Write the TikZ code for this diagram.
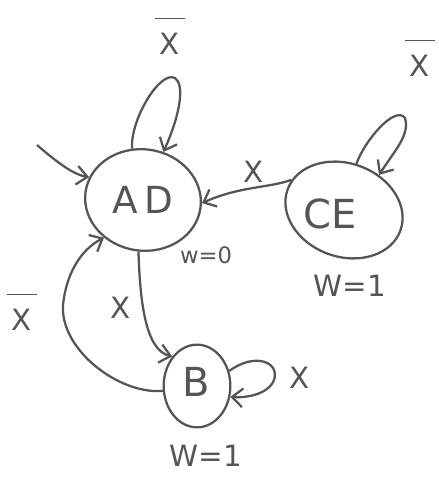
\documentclass[tikz,border=0pt]{standalone}
\usepackage{fontspec}
\setmainfont{DejaVu Sans}
\usetikzlibrary{shapes.geometric,arrows.meta}
\definecolor{pen}{RGB}{85,85,85}
% X with a raised bar over it
\newcommand{\notx}{$\overline{\mbox{\rule{0pt}{1.2em}\,X\,}}$}
\begin{document}
\begin{tikzpicture}[x=0.75pt,y=-0.75pt,
  state/.style={draw=pen,ellipse,line width=1.7pt,inner sep=0pt},
  statename/.style={text=pen,font=\fontsize{28}{30}\selectfont},
  edge/.style={draw=pen,line width=1.7pt,-{Straight Barb[length=8pt,width=14pt,line width=1.7pt]}},
  lbl/.style={text=pen,font=\fontsize{22}{24}\selectfont},
  wlbl/.style={text=pen,font=\fontsize{22}{24}\selectfont}]
\useasboundingbox (0,0) rectangle (438,477);
% states
\node[state,minimum width=87pt,minimum height=76pt,rotate=-8] (AD) at (143,200) {};
\node[statename] (tAD) at (143,200) {A\,D};
\node[state,minimum width=90pt,minimum height=70pt,rotate=-20] (CE) at (344,210) {};
\node[statename,font=\fontsize{30}{32}\selectfont] (tCE) at (330,214) {CE};
\node[state,minimum width=50pt,minimum height=62pt] (B) at (197,386) {};
\node[statename,font=\fontsize{30}{32}\selectfont] (tB) at (196,382) {B};
% weight labels
\node[wlbl,font=\fontsize{17}{19}\selectfont] (w0) at (206,255) {w=0};
\node[wlbl] (w1ce) at (350,286) {W=1};
\node[wlbl] (w1b) at (206,456) {W=1};
% start arrow
\coordinate (start) at (37,145);
\draw[edge] (start) .. controls (60,165) and (75,175) .. (AD.165);
% self loop on AD
\draw[edge] (AD.110) .. controls (130,120) and (160,70) .. (175,78) .. controls (185,85) and (180,115) .. (AD.75);
\node[lbl] (xad) at (170,36) {\notx};
% self loop on CE
\draw[edge] (CE.95) .. controls (365,140) and (395,105) .. (405,118) .. controls (410,135) and (395,150) .. (CE.65);
\node[lbl] (xce) at (420,58) {\notx};
% CE -> AD
\draw[edge] (CE.170) .. controls (270,188) and (240,186) .. (AD.5);
\node[lbl] (xca) at (254,172) {X};
% AD -> B
\draw[edge] (AD.-87) .. controls (140,300) and (145,350) .. (B.130);
\node[lbl] (xab) at (121,308) {X};
% B -> AD
\draw[edge] (B.188) .. controls (120,395) and (60,350) .. (63,305) .. controls (66,275) and (80,250) .. (AD.-128);
\node[lbl] (xba) at (22,312) {\notx};
% self loop on B
\draw[edge] (B.25) .. controls (255,352) and (280,362) .. (274,380) .. controls (268,395) and (245,398) .. (B.-18);
\node[lbl] (xbb) at (300,378) {X};
\end{tikzpicture}
\end{document}
